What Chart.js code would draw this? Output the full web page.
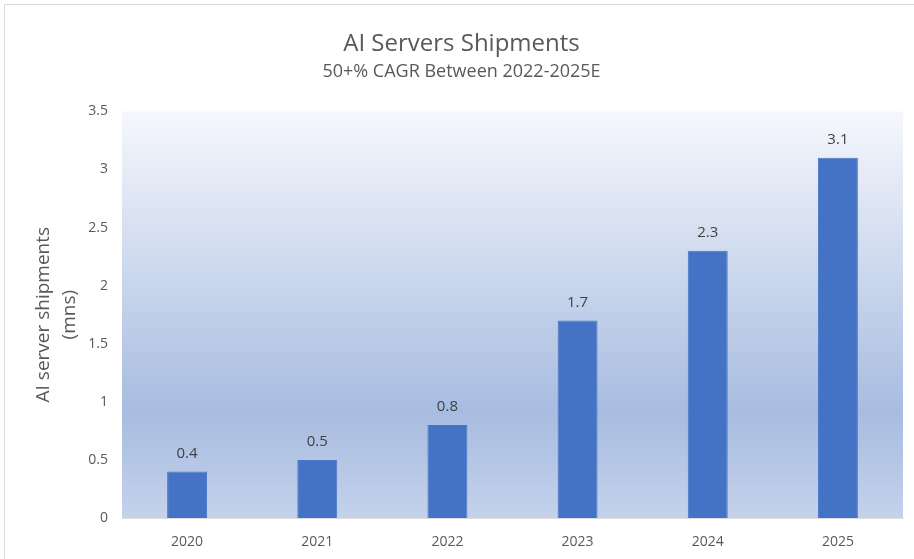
<!DOCTYPE html>
<html>
<head>
<meta charset="utf-8">
<script src="https://cdn.jsdelivr.net/npm/chart.js@4.4.0/dist/chart.umd.min.js"></script>
<style>
  html, body { margin: 0; padding: 0; background: #fff; overflow: hidden; }
  #wrap { width: 914px; height: 559px; position: relative; }
</style>
</head>
<body>
<div id="wrap"><canvas id="myChart"></canvas></div>
<script>
// chart data
var years = ["2020", "2021", "2022", "2023", "2024", "2025"];
var shipments = [0.4, 0.5, 0.8, 1.7, 2.3, 3.1];
var yTicks = [0, 0.5, 1, 1.5, 2, 2.5, 3, 3.5];

var textColor = "#595959";
var fontFamily = "'Open Sans', sans-serif";

// draws the outer frame and the gradient behind the bars
var backgroundPlugin = {
    id: "background",
    beforeDraw: function(chart) {
        var ctx = chart.ctx;
        var area = chart.chartArea;
        ctx.save();
        ctx.strokeStyle = "#d9d9d9";
        ctx.lineWidth = 1;
        ctx.strokeRect(4.5, 4.5, 1200, 1200);
        var grad = ctx.createLinearGradient(0, area.top, 0, area.bottom);
        grad.addColorStop(0, "#f5f7fc");
        grad.addColorStop(0.74, "#a7bce0");
        grad.addColorStop(1, "#c4d2ec");
        ctx.fillStyle = grad;
        ctx.fillRect(area.left, area.top, area.right - area.left, area.bottom - area.top);
        ctx.restore();
    }
};

// writes the value above each bar
var valueLabels = {
    id: "valueLabels",
    afterDatasetsDraw: function(chart) {
        var ctx = chart.ctx;
        var meta = chart.getDatasetMeta(0);
        ctx.save();
        ctx.fillStyle = "#404040";
        ctx.font = "15px " + fontFamily;
        ctx.textAlign = "center";
        ctx.textBaseline = "middle";
        meta.data.forEach(function(bar, i) {
            ctx.fillText(String(shipments[i]), bar.x, bar.y - 18);
        });
        ctx.restore();
    }
};

new Chart(document.getElementById("myChart"), {
    type: "bar",
    data: {
        labels: years,
        datasets: [{
            label: "AI server shipments",
            data: shipments,
            backgroundColor: "#4472c4",
            borderColor: "#4a78c8",
            borderWidth: 1,
            categoryPercentage: 1,
            barPercentage: 0.307
        }]
    },
    options: {
        responsive: true,
        maintainAspectRatio: false,
        animation: false,
        layout: { padding: { left: 20, right: 11, top: 0, bottom: 0 } },
        plugins: {
            legend: { display: false },
            tooltip: { enabled: false },
            title: {
                display: true,
                text: "AI Servers Shipments",
                color: textColor,
                font: { family: fontFamily, size: 24, weight: "normal" },
                padding: { top: 30, bottom: 2 }
            },
            subtitle: {
                display: true,
                text: "50+% CAGR Between 2022-2025E",
                color: textColor,
                font: { family: fontFamily, size: 18, weight: "normal" },
                padding: { top: 0, bottom: 29 }
            }
        },
        scales: {
            x: {
                grid: { display: false, drawTicks: false },
                border: { display: true, color: "#dcdcdc" },
                ticks: { color: textColor, font: { family: fontFamily, size: 14 }, padding: 16 },
                afterFit: function(scale) { scale.height = 41; }
            },
            y: {
                min: 0,
                max: 3.5,
                afterBuildTicks: function(scale) {
                    scale.ticks = yTicks.map(function(v) { return { value: v }; });
                },
                grid: { display: false, drawTicks: false },
                border: { display: false },
                ticks: {
                    color: textColor,
                    font: { family: fontFamily, size: 14 },
                    padding: 14,
                    callback: function(value) { return String(value); }
                },
                title: {
                    display: true,
                    text: ["AI server shipments", "(mns)"],
                    color: textColor,
                    font: { family: fontFamily, size: 19, lineHeight: 1.4 },
                    padding: { top: 10, bottom: 0 }
                },
                afterFit: function(scale) { scale.width = 102; }
            }
        }
    },
    plugins: [backgroundPlugin, valueLabels]
});
</script>
</body>
</html>
